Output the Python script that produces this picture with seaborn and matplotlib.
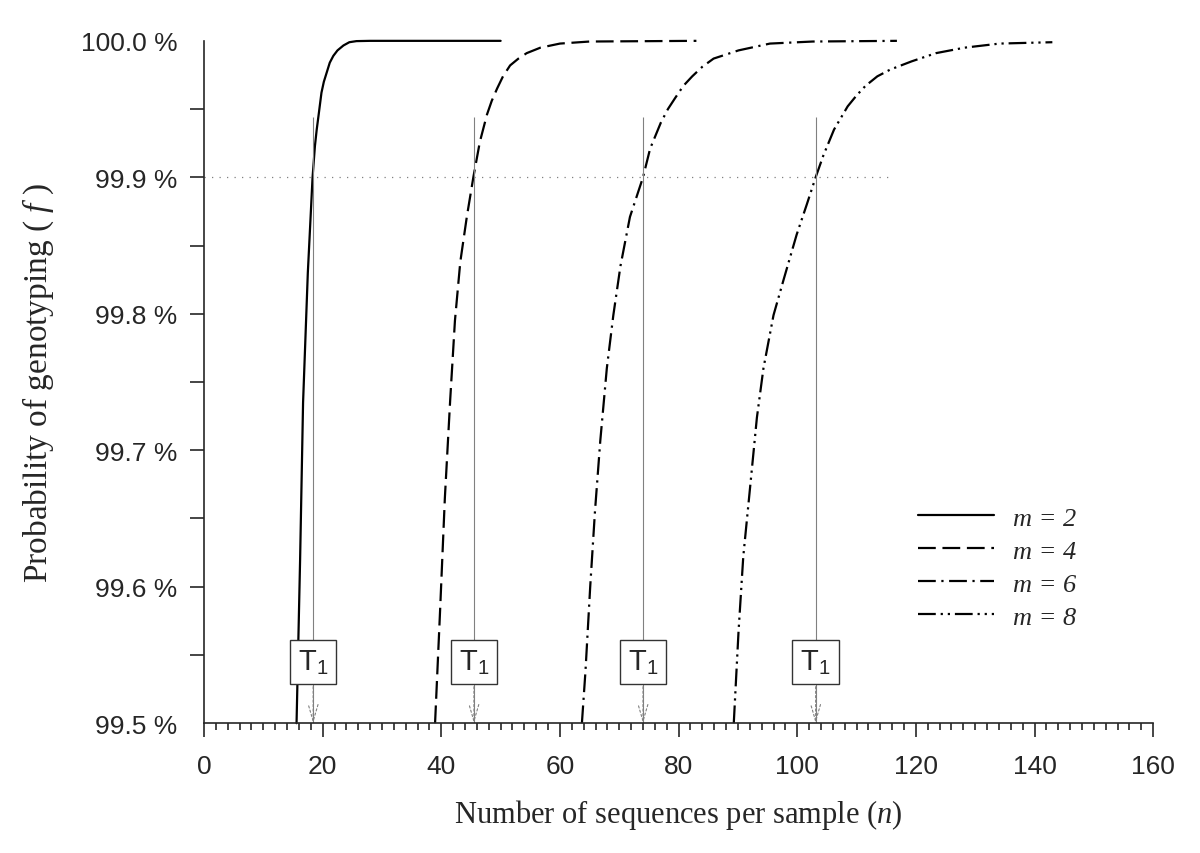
import numpy as np
import pandas as pd
import matplotlib
matplotlib.use('Agg')
import matplotlib.pyplot as plt
import seaborn as sns

# curves: n = sequences per sample, f = probability (%)
m2_n = [15.6, 16.2, 16.7, 17.5, 18.3, 18.7, 19.0, 19.3, 19.8, 20.2, 20.7, 21.2, 21.8, 22.5, 23.5, 24.5,
        25.7, 28.0, 50.0]
m2_f = [99.5, 99.62, 99.735, 99.83, 99.900, 99.923, 99.935, 99.945, 99.962, 99.970, 99.977, 99.984,
        99.989, 99.993, 99.9966, 99.999, 99.9998, 100.0, 100.0]

m4_n = [38.95, 39.8, 40.6, 41.5, 42.3, 43.2, 44.3, 45.4, 46.5, 47.7, 48.5, 49.4, 50.4, 51.6, 53.0, 54.4,
        56.7, 60.0, 65.0, 83.0]
m4_f = [99.5, 99.583, 99.665, 99.737, 99.795, 99.838, 99.871, 99.9, 99.926, 99.946, 99.956, 99.965,
        99.974, 99.982, 99.987, 99.991, 99.995, 99.998, 99.9995, 100.0]

m6_n = [63.7, 64.3, 65.1, 65.9, 66.8, 67.9, 69.0, 70.2, 71.8, 74.0, 75.2, 77.0, 78.2, 79.4, 80.8, 82.3,
        84.0, 85.9, 88.0, 90.1, 95.4, 102.6, 116.8]
m6_f = [99.5, 99.538, 99.600, 99.655, 99.707, 99.760, 99.799, 99.835, 99.871, 99.9, 99.921, 99.940,
        99.950, 99.958, 99.967, 99.974, 99.981, 99.987, 99.990, 99.993, 99.998, 99.9995, 100.0]

m8_n = [89.3, 90.1, 90.9, 92.1, 93.2, 94.3, 96.0, 97.7, 99.9, 101.6, 103.1, 104.4, 106.2, 108.5, 110.0,
        111.5, 113.5, 115.7, 119.3, 123.4, 128.2, 134.1, 143.0]
m8_f = [99.5, 99.567, 99.622, 99.675, 99.724, 99.760, 99.799, 99.825, 99.858, 99.880, 99.9, 99.916,
        99.935, 99.952, 99.960, 99.967, 99.974, 99.979, 99.985, 99.991, 99.995, 99.998, 99.999]

labels = ['m = 2', 'm = 4', 'm = 6', 'm = 8']
t1_n = [18.4, 45.5, 74.0, 103.1]   # T1 thresholds
t1_top = 99.944
cutoff = 99.9
cutoff_end = 116.2
box_y = 99.5447

df = pd.concat([pd.DataFrame({'n': n, 'f': f, 'm': lab})
                for n, f, lab in zip([m2_n, m4_n, m6_n, m8_n], [m2_f, m4_f, m6_f, m8_f], labels)])

sns.set_style('ticks')
plt.rcParams['font.family'] = ['Liberation Sans', 'DejaVu Sans']
plt.rcParams['mathtext.fontset'] = 'custom'
plt.rcParams['mathtext.rm'] = 'Liberation Serif'
plt.rcParams['mathtext.it'] = 'Liberation Serif:italic'
plt.rcParams['mathtext.sf'] = 'Liberation Sans'

fig = plt.figure(figsize=(12, 8.54), dpi=100)
ax = fig.add_axes([0.17, 0.152, 0.791, 0.799])

dashes = ['', (8, 3), (8, 2.5, 1, 2.5), (8, 2.2, 1, 2.2, 1, 2.2)]
sns.lineplot(data=df, x='n', y='f', hue='m', style='m', palette=['black'] * 4, dashes=dashes,
             estimator=None, sort=False, lw=1.6, ax=ax)
for ln in ax.lines:
    ln.set_clip_on(False)

# dotted 99.9 % line and T1 markers
ax.hlines(cutoff, 0, cutoff_end, colors='gray', linestyles=(0, (1, 5)), lw=0.9)
ax.vlines(t1_n, 99.5, t1_top, colors='gray', lw=0.8)
for t in t1_n:
    ax.annotate('', xy=(t, 99.5), xytext=(t, 99.53),
                arrowprops=dict(arrowstyle='->,head_length=1.2,head_width=0.35', color='gray',
                                lw=0.8, ls=(0, (2, 2)), shrinkA=0, shrinkB=0))
    ax.text(t, box_y, r'$\mathsf{T}_\mathsf{1}$', ha='center', va='center', fontsize=21,
            bbox=dict(boxstyle='square,pad=0.28', fc='white', ec='#333333', lw=1))

ax.set_xlim(0, 160)
ax.set_ylim(99.5, 100.0)
ax.set_xticks(range(0, 161, 20))
ax.set_xticks(np.arange(0, 161, 2), minor=True)
yt = np.round(np.arange(99.5, 100.01, 0.1), 1)
ax.set_yticks(yt)
ax.set_yticklabels([f'{v:.1f} %' for v in yt])
ax.set_yticks(np.arange(99.55, 100.0, 0.1), minor=True)
ax.tick_params(axis='both', which='major', labelsize=19, length=10, width=1.2, direction='out')
ax.tick_params(axis='x', which='major', pad=12)
ax.tick_params(axis='y', which='major', pad=9)
ax.tick_params(axis='x', which='minor', length=5, width=1.2)
ax.tick_params(axis='y', which='minor', length=10, width=1.2)
yticks = ax.yaxis.get_major_ticks()
yticks[0].tick1line.set_visible(False)
yticks[-1].tick1line.set_visible(False)
sns.despine(ax=ax)
for s in ['left', 'bottom']:
    ax.spines[s].set_linewidth(1.2)

ax.set_xlabel(r'Number of sequences per sample ($n$)', fontsize=22, family='Liberation Serif', labelpad=14)
ax.set_ylabel(r'Probability of genotyping ( $f$ )', fontsize=24, family='Liberation Serif', labelpad=18)

handles, labs = ax.get_legend_handles_labels()
keep = [(h, l) for h, l in zip(handles, labs) if l in labels]
ax.legend([h for h, l in keep], [l for h, l in keep], loc='upper left', bbox_to_anchor=(0.752, 0.318),
          frameon=False, borderpad=0, borderaxespad=0, handlelength=2.9, handletextpad=0.7,
          labelspacing=0.36, prop={'family': 'Liberation Serif', 'style': 'italic', 'size': 19})

fig.savefig('out.png', dpi=100)
